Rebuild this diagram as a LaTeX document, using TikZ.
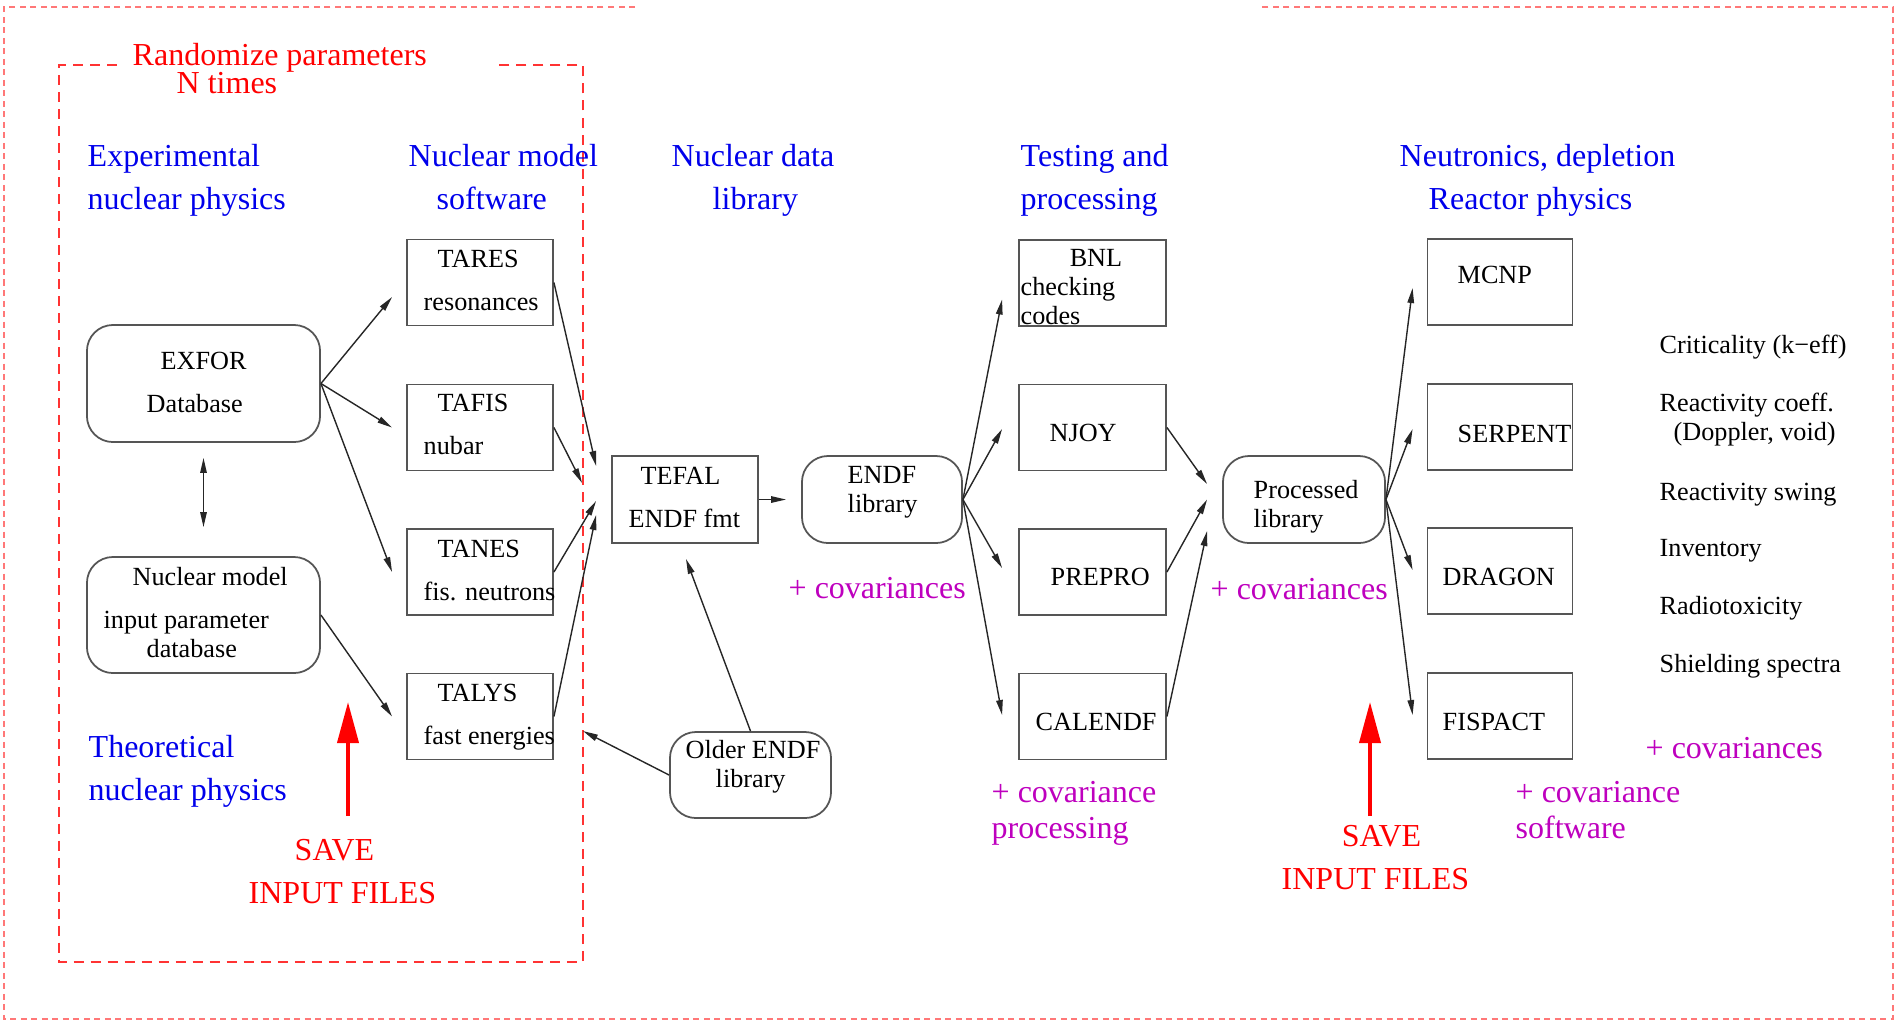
\documentclass[tikz,border=0pt]{standalone}
\usepackage{fontspec}
\setmainfont{Liberation Serif}
\usepackage{tikz}
\usetikzlibrary{arrows.meta, positioning, calc}
\definecolor{hdrblue}{RGB}{0, 0, 235}
\definecolor{covmag}{RGB}{190, 0, 190}
\definecolor{savered}{RGB}{255, 0, 0}
\definecolor{framepink}{RGB}{255, 120, 120}
\definecolor{boxgray}{RGB}{85, 85, 85}

\tikzset{
    >={Triangle[length=0.15cm, width=0.065cm]},
    codebox/.style={draw=boxgray, line width=0.5pt, inner sep=0pt, minimum width=1.46cm, minimum height=0.86cm},
    libbox/.style={draw=boxgray, line width=0.5pt, inner sep=0pt, rounded corners=0.26cm},
    blk/.style={inner sep=0pt, anchor=base west, align=left, font=\fontsize{7.45}{8.2}\selectfont},
    hdr/.style={inner sep=0pt, anchor=base west, align=left, text=hdrblue, font=\fontsize{9.1}{12}\selectfont},
    cov/.style={inner sep=0pt, anchor=base west, align=left, text=covmag, font=\fontsize{9.1}{10.2}\selectfont},
    sav/.style={inner sep=0pt, anchor=base west, align=left, text=savered, font=\fontsize{9.1}{12.2}\selectfont},
    flow/.style={->, line width=0.4pt, black!85},
    savearrow/.style={-{Triangle[length=0.41cm, width=0.21cm]}, line width=1.1pt, savered},
}

\begin{document}
\begin{tikzpicture}[x=0.01cm, y=-0.01cm]
    \useasboundingbox (0,0) rectangle (1895,1023);

    % Outer frame, open at the top
    \draw[framepink, line width=0.6pt, dash pattern=on 0.06cm off 0.045cm]
        (635,7) -- (4,7) -- (4,1019) -- (1893,1019) -- (1893,7) -- (1259,7);

    % Randomize loop
    \draw[savered!80, line width=0.8pt, dash pattern=on 0.1cm off 0.07cm]
        (117,65) -- (59,65) -- (59,962) -- (583,962) -- (583,65) -- (495,65);
    \coordinate (rndin) at (583,731);
    \node[sav] (randA) at (132,65) {Randomize parameters};
    \node[sav] (randB) at (176,93) {N times};

    % Column headers (base = last line)
    \node[hdr] (expt) at (87,209) {Experimental\\nuclear physics};
    \node[hdr] (nmsw) at (408,209) {Nuclear model\\\hspace*{0.28cm}software};
    \node[hdr] (ndlib) at (671,209) {Nuclear data\\\hspace*{0.41cm}library};
    \node[hdr] (tproc) at (1020,209) {Testing and\\processing};
    \node[hdr] (neut) at (1399,209) {Neutronics, depletion\\\hspace*{0.29cm}Reactor physics};
    \node[hdr] (theo) at (88,800) {Theoretical\\nuclear physics};

    % Databases
    \node[libbox, minimum width=2.33cm, minimum height=1.17cm] (exfor) at (203.5,383.5) {};
    \node[libbox, minimum width=2.33cm, minimum height=1.16cm] (nmdb) at (203.5,615) {};
    \node[blk] (exforT) at (146,412) {\hspace*{0.14cm}EXFOR\\[4pt]Database};
    \node[blk] (nmdbT) at (103,657) {\hspace*{0.29cm}Nuclear model\\[4pt]input parameter\\\hspace*{0.43cm}database};

    % Nuclear model codes
    \node[codebox] (tares) at (480,282.5) {};
    \node[codebox] (tafis) at (480,427.5) {};
    \node[codebox] (tanes) at (480,572) {};
    \node[codebox] (talys) at (480,716.5) {};
    \node[blk] (taresT) at (423,310) {\hspace*{0.14cm}TARES\\[4pt]resonances};
    \node[blk] (tafisT) at (423,454) {\hspace*{0.14cm}TAFIS\\[4pt]nubar};
    \node[blk] (tanesT) at (423,600) {\hspace*{0.14cm}TANES\\[4pt]fis. neutrons};
    \node[blk] (talysT) at (423,744) {\hspace*{0.14cm}TALYS\\[4pt]fast energies};

    % Formatting and libraries
    \node[codebox, minimum height=0.87cm] (tefal) at (685,499.5) {};
    \node[libbox, minimum width=1.6cm, minimum height=0.87cm] (endf) at (882,499.5) {};
    \node[libbox, minimum width=1.61cm, minimum height=0.86cm] (older) at (750.5,775) {};
    \node[blk] (tefalT) at (628,527) {\hspace*{0.12cm}TEFAL\\[4pt]ENDF fmt};
    \node[blk] (endfT) at (847,512) {ENDF\\library};
    \node[blk] (olderT) at (685,787) {Older ENDF\\\hspace*{0.3cm}library};

    % Testing and processing codes
    \node[codebox, minimum width=1.47cm] (bnl) at (1092.5,283) {};
    \node[codebox, minimum width=1.47cm] (njoy) at (1092.5,427.5) {};
    \node[codebox, minimum width=1.47cm] (prepro) at (1092.5,572) {};
    \node[codebox, minimum width=1.47cm] (calendf) at (1092.5,716.5) {};
    \node[blk] (bnlT) at (1020,324) {\hspace*{0.49cm}BNL\\checking\\codes};
    \node[blk] (njoyT) at (1049,441) {NJOY};
    \node[blk] (preproT) at (1050,585) {PREPRO};
    \node[blk] (calendfT) at (1035,730) {CALENDF};

    \node[libbox, minimum width=1.62cm, minimum height=0.87cm] (proc) at (1304,499.5) {};
    \node[blk] (procT) at (1253,527) {Processed\\library};

    % Reactor physics codes
    \node[codebox, minimum width=1.45cm] (mcnp) at (1500,282) {};
    \node[codebox, minimum width=1.45cm] (serpent) at (1500,427) {};
    \node[codebox, minimum width=1.45cm] (dragon) at (1500,571) {};
    \node[codebox, minimum width=1.45cm] (fispact) at (1500,716) {};
    \node[blk] (mcnpT) at (1457,283) {MCNP};
    \node[blk] (serpentT) at (1457,442) {SERPENT};
    \node[blk] (dragonT) at (1442,585) {DRAGON};
    \node[blk] (fispactT) at (1442,730) {FISPACT};

    % Results
    \node[blk] (crit) at (1659,353) {Criticality (k\textminus eff)};
    \node[blk] (react) at (1659,440) {Reactivity coeff.\\\hspace*{0.14cm}(Doppler, void)};
    \node[blk] (swing) at (1659,500) {Reactivity swing};
    \node[blk] (invent) at (1659,556) {Inventory};
    \node[blk] (radtox) at (1659,614) {Radiotoxicity};
    \node[blk] (shield) at (1659,672) {Shielding spectra};

    % Covariance notes
    \node[cov] (covA) at (788,598) {+ covariances};
    \node[cov] (covB) at (1210,599) {+ covariances};
    \node[cov] (covC) at (1645,758) {+ covariances};
    \node[cov] (covproc) at (991,838) {+ covariance\\processing};
    \node[cov] (covsw) at (1515,838) {+ covariance\\software};

    % Save points
    \node[sav] (saveL) at (248,903) {\hspace*{0.46cm}SAVE\\INPUT FILES};
    \node[sav] (saveR) at (1281,889) {\hspace*{0.6cm}SAVE\\INPUT FILES};
    \coordinate (tipL) at (348,702);
    \coordinate (tipR) at (1370,702);
    \draw[savearrow, shorten <=0.22cm] (saveL.north -| tipL) -- (tipL);
    \draw[savearrow, shorten <=0.08cm] (saveR.north -| tipR) -- (tipR);

    % Connectors
    \draw[flow, <->, shorten <=0.15cm, shorten >=0.29cm] (exfor) -- (nmdb);
    \draw[flow] (exfor.east) -- ($(tares.west)+(-14,14.5)$);
    \draw[flow] (exfor.east) -- ($(tafis.west)+(-14,0)$);
    \draw[flow] (exfor.east) -- ($(tanes.west)+(-14,0)$);
    \draw[flow] (nmdb.east) -- ($(talys.west)+(-14,0)$);

    \draw[flow] (tares.east) -- ($(tefal.west)+(-15,-33.5)$);
    \draw[flow] (tafis.east) -- ($(tefal.west)+(-29,-16.5)$);
    \draw[flow] (tanes.east) -- ($(tefal.west)+(-15,1.5)$);
    \draw[flow] (talys.east) -- ($(tefal.west)+(-15,15.5)$);

    \draw[flow] (tefal.east) -- ($(endf.west)+(-15,0)$);
    \draw[flow] (older.north) -- ($(tefal.south)+(1,15)$);
    \draw[flow] (older.west) -- (rndin);

    \draw[flow] (endf.east) -- ($(bnl.west)+(-16,16.5)$);
    \draw[flow] (endf.east) -- ($(njoy.west)+(-16,1.5)$);
    \draw[flow] (endf.east) -- ($(prepro.west)+(-16,-4)$);
    \draw[flow] (endf.east) -- ($(calendf.west)+(-16,-1.5)$);

    \draw[flow] (njoy.east) -- ($(proc.west)+(-15,-15.5)$);
    \draw[flow] (prepro.east) -- ($(proc.west)+(-15,0)$);
    \draw[flow] (calendf.east) -- ($(proc.west)+(-15,31.5)$);

    \draw[flow] (proc.east) -- ($(mcnp.west)+(-14,6)$);
    \draw[flow] (proc.east) -- ($(serpent.west)+(-14,2)$);
    \draw[flow] (proc.east) -- ($(dragon.west)+(-14,-1)$);
    \draw[flow] (proc.east) -- ($(fispact.west)+(-14,-1)$);
\end{tikzpicture}
\end{document}
